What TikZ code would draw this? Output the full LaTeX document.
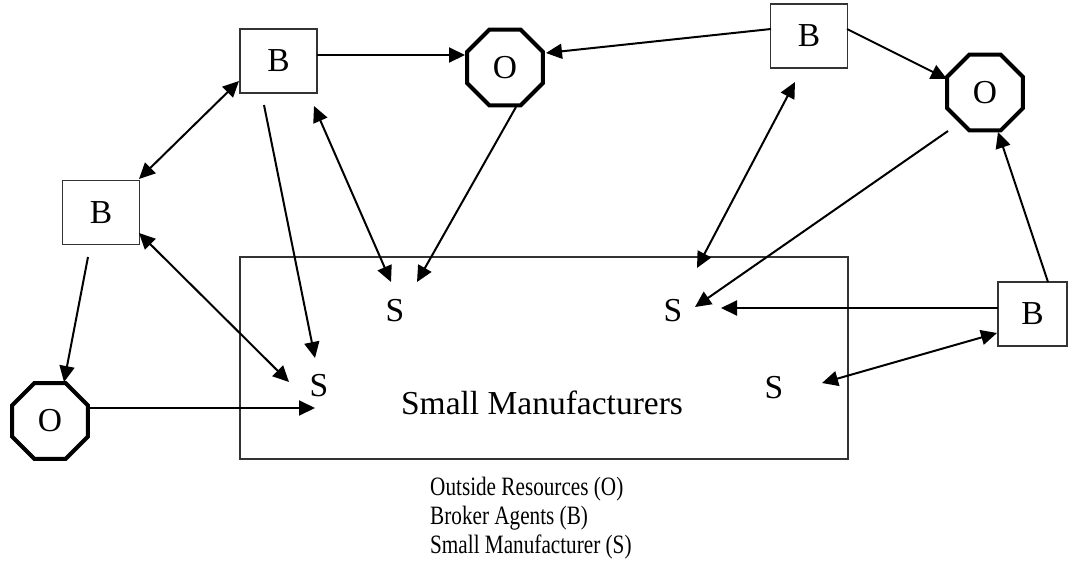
\documentclass[tikz,border=0pt]{standalone}
\usepackage{fontspec}
\usepackage{graphicx}
\setmainfont{Liberation Serif}
\usetikzlibrary{arrows.meta,shapes.geometric}
\tikzset{
  lblfont/.style={font=\fontsize{33.5}{40}\selectfont},
  bbox/.style={draw=black!80, line width=1.2pt, minimum width=77pt, minimum height=64pt, inner sep=0pt, lblfont},
  oct/.style={regular polygon, regular polygon sides=8, draw=black, line width=4pt, minimum size=82pt, inner sep=0pt, lblfont},
  lab/.style={inner sep=0pt, lblfont},
  legend/.style={inner sep=0pt, anchor=base west, font=\fontsize{26.5}{30}\selectfont},
  tip/.tip={Triangle[length=16pt,width=15pt]},
  arr/.style={line width=2pt, -tip},
  darr/.style={line width=2pt, tip-tip}
}
\begin{document}
\begin{tikzpicture}[x=1pt,y=-1pt]
\useasboundingbox (0,0) rectangle (1068,573);
% Small manufacturers area
\node[draw=black!80, line width=1.2pt, minimum width=608pt, minimum height=202pt, inner sep=0pt] (SM) at (544,358) {};
\node[lab, anchor=base] (SMtext) at (542,414) {Small Manufacturers};
\node[lab] (S1) at (395,311) {S};
\node[lab] (S2) at (673,311) {S};
\node[lab] (S3) at (319,386) {S};
\node[lab] (S4) at (774,388) {S};
% brokers
\node[bbox] (B1) at (278.5,61) {B\hspace{12pt}};
\node[bbox] (B2) at (809,36) {B\hspace{12pt}};
\node[bbox] (B3) at (101,212.5) {B\hspace{12pt}};
\node[bbox, minimum width=69pt] (B4) at (1032.5,314) {B\hspace{5pt}};
% outside resources
\node[oct] (O1) at (505,67.5) {O};
\node[oct] (O2) at (985,92.5) {O};
\node[oct] (O3) at (50,421) {O};
% connector end points
\coordinate (b1e) at (317,55);   \coordinate (o1w) at (465,55);
\coordinate (b2w) at (771,29);   \coordinate (o1e) at (546,53);
\coordinate (b2e) at (847,29);   \coordinate (o2w) at (947,79);
\coordinate (b1sw) at (239,81);  \coordinate (b3ne) at (139,179);
\coordinate (b1s) at (264,105);  \coordinate (s3n) at (315,358);
\coordinate (b1se) at (314,106); \coordinate (s1nw) at (391,282);
\coordinate (o1s) at (516,107);  \coordinate (s1ne) at (417,282);
\coordinate (b3se) at (139,233); \coordinate (s3nw) at (289,382);
\coordinate (b3s) at (88,257);   \coordinate (o3n) at (64,382);
\coordinate (o3e) at (89,408);   \coordinate (s3w) at (315,408);
\coordinate (b2s) at (795,82);   \coordinate (s2n) at (697,268);
\coordinate (o2sw) at (948,131); \coordinate (s2ne) at (695,307);
\coordinate (b4w) at (998,308);  \coordinate (s2e) at (721,308);
\coordinate (b4sw) at (997,333); \coordinate (s4e) at (822,383);
\coordinate (b4n) at (1048,282); \coordinate (o2s) at (998,132);
% connectors
\draw[arr] (b1e) -- (o1w);
\draw[arr] (b2w) -- (o1e);
\draw[arr] (b2e) -- (o2w);
\draw[darr] (b1sw) -- (b3ne);
\draw[arr] (b1s) -- (s3n);
\draw[darr] (b1se) -- (s1nw);
\draw[arr] (o1s) -- (s1ne);
\draw[darr] (b3se) -- (s3nw);
\draw[arr] (b3s) -- (o3n);
\draw[arr] (o3e) -- (s3w);
\draw[darr] (b2s) -- (s2n);
\draw[arr] (o2sw) -- (s2ne);
\draw[arr] (b4w) -- (s2e);
\draw[darr] (b4sw) -- (s4e);
\draw[arr] (b4n) -- (o2s);
% legend
\node[legend] (L1) at (430,495) {\scalebox{0.8}[1]{Outside Resources (O)}};
\node[legend] (L2) at (430,524) {\scalebox{0.8}[1]{Broker Agents (B)}};
\node[legend] (L3) at (430,553) {\scalebox{0.8}[1]{Small Manufacturer (S)}};
\end{tikzpicture}
\end{document}
